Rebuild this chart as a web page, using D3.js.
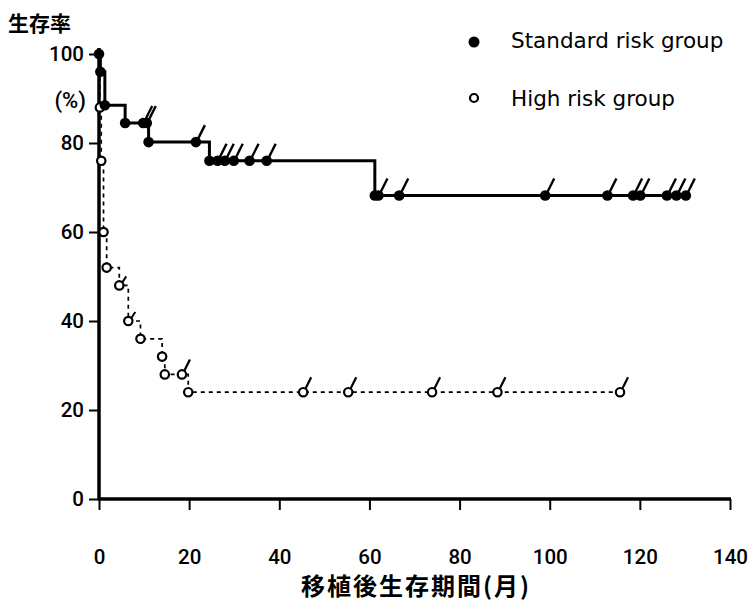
<!DOCTYPE html>
<html><head><meta charset="utf-8">
<script src="https://cdn.jsdelivr.net/npm/d3@7"></script>
<style>
body{margin:0;background:#fff;}
svg{display:block;}
text{fill:#000;}
</style></head>
<body>
<svg id="chart" width="751" height="603"></svg>
<script>
// ---- data ----
const xTicks = [0, 20, 40, 60, 80, 100, 120, 140];
const yTicks = [0, 20, 40, 60, 80, 100];
const seriesNames = ["Standard risk group", "High risk group"];
// standard risk group: [month, survival %] at each step
const stdEvents = [[0,100],[0.3,96],[1.3,88.5],[5.8,84.5],[11,80.2],[24.5,76],[61.2,68.2]];
const stdCensored = [9.8, 10.6, 21.5, 26.3, 27.9, 29.9, 33.4, 37.2, 62.0, 66.6, 99.0, 112.8, 118.5, 120.1, 126.0, 128.1, 130.2];
const stdEnd = 130.6;
// high risk group
const highEvents = [[0,100],[0.2,88],[0.5,76],[1.0,60],[1.7,52],[4.5,48],[6.5,40],[9.2,36],[14.0,32],[14.6,28],[19.8,24]];
const highCensored = [18.4, 45.3, 55.3, 73.9, 88.4, 115.6];
const highHooks = [4.5, 6.5];
const highEnd = 116;

const svg = d3.select("#chart");
const x = d3.scaleLinear().domain([0,140]).range([99,730]);
const y = d3.scaleLinear().domain([0,100]).range([499,54]);
const numFont = "Roboto, 'Open Sans', sans-serif";
const legFont = "'DejaVu Sans', sans-serif";

function stepPoints(events, end){
  const pts = [events[0]];
  for (let i=1;i<events.length;i++){
    pts.push([events[i][0], events[i-1][1]]);
    pts.push(events[i]);
  }
  pts.push([end, events[events.length-1][1]]);
  return pts;
}
function valueAt(events, t){
  let v = events[0][1];
  for (const e of events){ if (e[0] <= t) v = e[1]; }
  return v;
}
const line = d3.line().x(d=>x(d[0])).y(d=>y(d[1]));

// axes
const yAxis = d3.axisLeft(y).tickValues(yTicks).tickSize(10).tickSizeOuter(0).tickPadding(5);
const gy = svg.append("g").attr("transform","translate(99,0)").call(yAxis);
gy.select(".domain").remove();
gy.selectAll(".tick line").attr("stroke","#000").attr("stroke-width",2);
gy.selectAll(".tick text").attr("font-family",numFont).attr("font-size",20.5).attr("font-weight",500).attr("fill","#000");

const xAxis = d3.axisBottom(x).tickValues(xTicks).tickSize(11).tickSizeOuter(0).tickPadding(39);
const gx = svg.append("g").attr("transform","translate(0,499)").call(xAxis);
gx.select(".domain").remove();
gx.selectAll(".tick line").attr("stroke","#000").attr("stroke-width",2);
gx.selectAll(".tick text").attr("font-family",numFont).attr("font-size",20.5).attr("font-weight",500).attr("fill","#000");

svg.append("line").attr("x1",99).attr("x2",99).attr("y1",48).attr("y2",500)
  .attr("stroke","#000").attr("stroke-width",3.5);
svg.append("line").attr("x1",98).attr("x2",731).attr("y1",499).attr("y2",499)
  .attr("stroke","#000").attr("stroke-width",3.5);

// high risk group (dashed, open circles)
svg.append("path").datum(stepPoints(highEvents, highEnd)).attr("d", line)
  .attr("fill","none").attr("stroke","#000").attr("stroke-width",1.7).attr("stroke-dasharray","4,4");
const hc = svg.append("g");
hc.selectAll("line.c").data(highCensored).join("line")
  .attr("x1",d=>x(d)+1).attr("y1",d=>y(valueAt(highEvents,d))-1)
  .attr("x2",d=>x(d)+8).attr("y2",d=>y(valueAt(highEvents,d))-15)
  .attr("stroke","#000").attr("stroke-width",2.2);
hc.selectAll("line.h").data(highHooks).join("line")
  .attr("x1",d=>x(d)+3).attr("y1",d=>y(valueAt(highEvents,d))-3)
  .attr("x2",d=>x(d)+7).attr("y2",d=>y(valueAt(highEvents,d))-9)
  .attr("stroke","#000").attr("stroke-width",2);
const highMarks = highEvents.slice(1).map(d=>d[0]).concat(highCensored);
hc.selectAll("circle").data(highMarks).join("circle")
  .attr("cx",d=>x(d)).attr("cy",d=>y(valueAt(highEvents,d))).attr("r",4.2)
  .attr("fill","#fff").attr("stroke","#000").attr("stroke-width",2.2);

// standard risk group (solid, filled dots)
svg.append("path").datum(stepPoints(stdEvents, stdEnd)).attr("d", line)
  .attr("fill","none").attr("stroke","#000").attr("stroke-width",3);
const sc = svg.append("g");
sc.selectAll("line").data(stdCensored).join("line")
  .attr("x1",d=>x(d)+1).attr("y1",d=>y(valueAt(stdEvents,d))-1)
  .attr("x2",d=>x(d)+9).attr("y2",d=>y(valueAt(stdEvents,d))-17)
  .attr("stroke","#000").attr("stroke-width",2.4);
const stdMarks = stdEvents.map(d=>d[0]).concat(stdCensored);
sc.selectAll("circle").data(stdMarks).join("circle")
  .attr("cx",d=>x(d)).attr("cy",d=>y(valueAt(stdEvents,d))).attr("r",5.3)
  .attr("fill","#000");

// texts
svg.append("text").attr("x",8).attr("y",31).text("生存率")
  .attr("font-family","'Noto Sans CJK JP', sans-serif").attr("font-weight","bold").attr("font-size",21);
svg.append("text").attr("x",86).attr("y",108).attr("text-anchor","end").text("(%)")
  .attr("font-family",numFont).attr("font-size",22).attr("font-weight",500);
svg.append("text").attr("x",416).attr("y",584).attr("text-anchor","middle").attr("dominant-baseline","central")
  .text("移植後生存期間(月)")
  .attr("font-family","'Noto Sans CJK JP', sans-serif").attr("font-weight","bold").attr("font-size",24)
  .attr("letter-spacing","2px");

// legend
const lg = svg.append("g");
lg.append("circle").attr("cx",474).attr("cy",42).attr("r",5.5).attr("fill","#000");
lg.append("circle").attr("cx",474).attr("cy",98).attr("r",4).attr("fill","#fff").attr("stroke","#000").attr("stroke-width",2.2);
lg.selectAll("text").data(seriesNames).join("text")
  .attr("x",511).attr("y",(d,i)=>i===0?48:106).text(d=>d)
  .attr("font-family",legFont).attr("font-size",21.5);
</script>
</body></html>
